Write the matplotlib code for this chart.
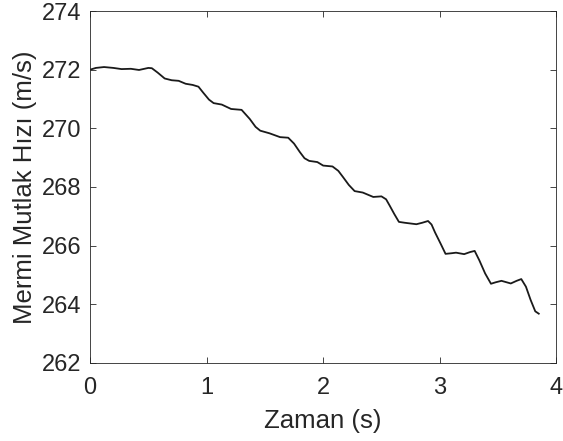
import matplotlib
matplotlib.use("Agg")
import matplotlib.pyplot as plt

# values
zaman = [0.00, 0.05, 0.12, 0.20, 0.27, 0.35, 0.42, 0.50, 0.53, 0.58,
         0.64, 0.70, 0.76, 0.82, 0.88, 0.93, 0.97, 1.02, 1.06, 1.13,
         1.21, 1.30, 1.37, 1.42, 1.46, 1.54, 1.63, 1.70, 1.75, 1.80,
         1.84, 1.88, 1.95, 2.00, 2.08, 2.13, 2.17, 2.22, 2.27, 2.34,
         2.43, 2.50, 2.54, 2.57, 2.61, 2.65, 2.70, 2.76, 2.80, 2.85,
         2.90, 2.93, 2.96, 3.01, 3.05, 3.10, 3.14, 3.21, 3.26, 3.30,
         3.34, 3.39, 3.44, 3.48, 3.53, 3.61, 3.66, 3.70, 3.74, 3.78,
         3.82, 3.85]
hiz = [272.00, 272.06, 272.09, 272.06, 272.02, 272.03, 271.99, 272.06, 272.05, 271.90,
       271.70, 271.64, 271.62, 271.52, 271.48, 271.42, 271.22, 270.98, 270.86, 270.81,
       270.66, 270.63, 270.32, 270.05, 269.92, 269.83, 269.70, 269.68, 269.48, 269.19,
       268.98, 268.89, 268.85, 268.73, 268.70, 268.55, 268.34, 268.07, 267.86, 267.81,
       267.66, 267.68, 267.58, 267.37, 267.08, 266.81, 266.78, 266.75, 266.73, 266.78,
       266.84, 266.72, 266.45, 266.05, 265.72, 265.74, 265.76, 265.71, 265.78, 265.82,
       265.50, 265.05, 264.70, 264.75, 264.80, 264.71, 264.80, 264.86, 264.60, 264.15,
       263.76, 263.68]

x_ticks = [0, 1, 2, 3, 4]
y_ticks = [262, 264, 266, 268, 270, 272, 274]

plt.rcParams["font.family"] = ["Liberation Sans", "DejaVu Sans"]
axis_col = "#262626"

fig = plt.figure(figsize=(5.63, 4.41), dpi=100)
ax = fig.add_axes([0.160, 0.177, 0.828, 0.798])
ax.plot(zaman, hiz, color="#1a1a1a", lw=1.3)

ax.set_xlim(0, 4)
ax.set_ylim(262, 274)
ax.set_xticks(x_ticks)
ax.set_yticks(y_ticks)
ax.tick_params(direction="in", top=True, right=True, labelsize=17,
               colors=axis_col, length=4, width=0.6, pad=6)
ax.tick_params(axis="x", pad=10)
for s in ax.spines.values():
    s.set_color(axis_col)
    s.set_linewidth(0.6)

ax.set_xlabel("Zaman (s)", fontsize=18.5, color=axis_col, labelpad=7)
ax.set_ylabel("Mermi Mutlak Hızı (m/s)", fontsize=18.5, color=axis_col, labelpad=4)

fig.savefig("out.png", dpi=100)
